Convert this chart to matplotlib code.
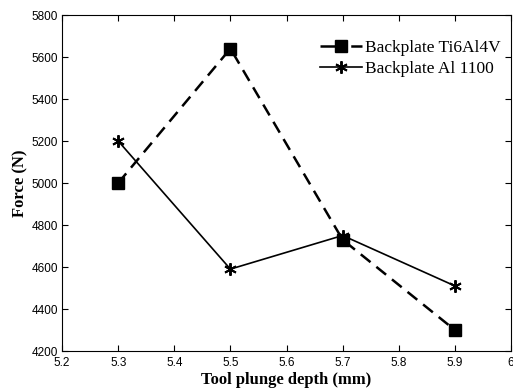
import matplotlib
matplotlib.use('Agg')
import matplotlib.pyplot as plt

# Data
depth = [5.3, 5.5, 5.7, 5.9]
force_ti = [5000, 5640, 4730, 4300]
force_al = [5200, 4590, 4750, 4510]

fig = plt.figure(figsize=(5.13, 3.9), dpi=100)
ax = fig.add_axes([0.121, 0.1, 0.875, 0.8615])

ax.plot(depth, force_ti, color='k', linestyle='--', dashes=(5, 3), linewidth=1.8,
        marker='s', markersize=8, label='Backplate Ti6Al4V')
ax.plot(depth, force_al, color='k', linestyle='-', linewidth=1.2,
        marker=(6, 2, 0), markersize=9, markeredgewidth=1.4, label='Backplate Al 1100')

ax.set_xlim(5.2, 6.0)
ax.set_ylim(4200, 5800)
ax.set_xticks([5.2, 5.3, 5.4, 5.5, 5.6, 5.7, 5.8, 5.9, 6.0])
ax.set_xticklabels(['5.2', '5.3', '5.4', '5.5', '5.6', '5.7', '5.8', '5.9', '6'])
ax.set_yticks(range(4200, 5801, 200))
ax.tick_params(direction='in', top=True, right=True, length=4, width=0.8,
               labelsize=8.5)
ax.tick_params(axis='x', pad=4)
ax.tick_params(axis='y', pad=3)
for lab in ax.get_xticklabels() + ax.get_yticklabels():
    lab.set_family('Liberation Sans')
for sp in ax.spines.values():
    sp.set_linewidth(0.8)

ax.set_xlabel('Tool plunge depth (mm)', family='Liberation Serif', fontweight='bold',
              fontsize=12, labelpad=2.5)
ax.set_ylabel('Force (N)', family='Liberation Serif', fontweight='bold',
              fontsize=12, labelpad=2)

leg = ax.legend(loc='upper right', bbox_to_anchor=(1.009, 0.967), frameon=False,
                handlelength=2.4, handletextpad=0.2,
                labelspacing=0.25, borderaxespad=0.6, borderpad=0.2,
                prop={'family': 'Liberation Serif', 'size': 12.5})
# legend line for the dashed series: dash - square - gap - dash, as in the original
leg.get_lines()[0].set_dashes((10.5, 1.8))

fig.savefig('out.png', dpi=100)
